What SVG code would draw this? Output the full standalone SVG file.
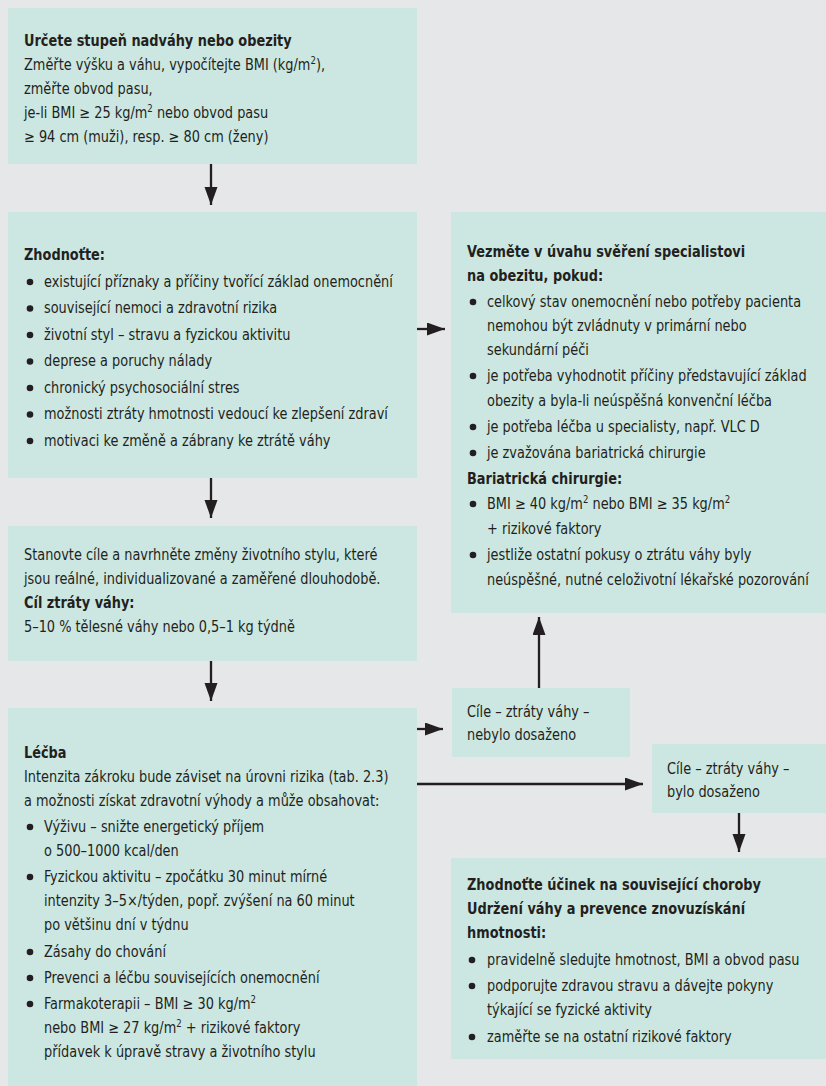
<svg xmlns="http://www.w3.org/2000/svg" width="826" height="1086" viewBox="0 0 826 1086">
<style>
.bg{fill:#e6e7e9}
.box{fill:#cce7e1}
text{font-family:"DejaVu Sans Condensed","Liberation Sans",sans-serif;font-size:15px;fill:#231f20;transform-box:fill-box;transform-origin:0 0;transform:scaleX(0.957)}
.b{font-weight:bold}
.dot{fill:#231f20}
.conn line{stroke:#231f20;stroke-width:2.3;fill:none}
</style>
<defs>
<marker id="ah" markerUnits="userSpaceOnUse" markerWidth="19" markerHeight="14" refX="18" refY="6.5" orient="auto">
<path d="M0,0 L18,6.5 L0,13 z" fill="#231f20"/>
</marker>
</defs>
<rect class="bg" x="0" y="0" width="826" height="1086"/>

<g id="n1">
<rect class="box" x="8" y="8" width="409" height="156"/>
<text class="b" x="24" y="46">Určete stupeň nadváhy nebo obezity</text>
<text x="24" y="70">Změřte výšku a váhu, vypočítejte BMI (kg/m<tspan dy="-6" font-size="10">2</tspan><tspan dy="6">),</tspan></text>
<text x="24" y="94">změřte obvod pasu,</text>
<text x="24" y="118">je-li BMI ≥ 25 kg/m<tspan dy="-6" font-size="10">2</tspan><tspan dy="6"> nebo obvod pasu</tspan></text>
<text x="24" y="142">≥ 94 cm (muži), resp. ≥ 80 cm (ženy)</text>
</g>

<g id="n2">
<rect class="box" x="8" y="212" width="409" height="266"/>
<text class="b" x="24" y="260">Zhodnoťte:</text>
<circle class="dot" cx="30" cy="282" r="3.3"/><text x="44" y="287">existující příznaky a příčiny tvořící základ onemocnění</text>
<circle class="dot" cx="30" cy="308.5" r="3.3"/><text x="44" y="313.5">související nemoci a zdravotní rizika</text>
<circle class="dot" cx="30" cy="335" r="3.3"/><text x="44" y="340">životní styl – stravu a fyzickou aktivitu</text>
<circle class="dot" cx="30" cy="361.5" r="3.3"/><text x="44" y="366.5">deprese a poruchy nálady</text>
<circle class="dot" cx="30" cy="388" r="3.3"/><text x="44" y="393">chronický psychosociální stres</text>
<circle class="dot" cx="30" cy="414.5" r="3.3"/><text x="44" y="419.5">možnosti ztráty hmotnosti vedoucí ke zlepšení zdraví</text>
<circle class="dot" cx="30" cy="441" r="3.3"/><text x="44" y="446">motivaci ke změně a zábrany ke ztrátě váhy</text>
</g>

<g id="n3">
<rect class="box" x="451" y="212" width="375" height="401"/>
<text class="b" x="467" y="257">Vezměte v úvahu svěření specialistovi</text>
<text class="b" x="467" y="281">na obezitu, pokud:</text>
<circle class="dot" cx="473" cy="302" r="3.3"/><text x="487" y="307">celkový stav onemocnění nebo potřeby pacienta</text>
<text x="487" y="331">nemohou být zvládnuty v primární nebo</text>
<text x="487" y="355">sekundární péči</text>
<circle class="dot" cx="473" cy="376" r="3.3"/><text x="487" y="381">je potřeba vyhodnotit příčiny představující základ</text>
<text x="487" y="406">obezity a byla-li neúspěšná konvenční léčba</text>
<circle class="dot" cx="473" cy="427" r="3.3"/><text x="487" y="432">je potřeba léčba u specialisty, např. VLC D</text>
<circle class="dot" cx="473" cy="453" r="3.3"/><text x="487" y="458">je zvažována bariatrická chirurgie</text>
<text class="b" x="467" y="484">Bariatrická chirurgie:</text>
<circle class="dot" cx="473" cy="504" r="3.3"/><text x="487" y="509">BMI ≥ 40 kg/m<tspan dy="-6" font-size="10">2</tspan><tspan dy="6"> nebo BMI ≥ 35 kg/m</tspan><tspan dy="-6" font-size="10">2</tspan></text>
<text x="487" y="534">+ rizikové faktory</text>
<circle class="dot" cx="473" cy="555" r="3.3"/><text x="487" y="560">jestliže ostatní pokusy o ztrátu váhy byly</text>
<text x="487" y="585">neúspěšné, nutné celoživotní lékařské pozorování</text>
</g>

<g id="n4">
<rect class="box" x="8" y="526" width="409" height="135"/>
<text x="24" y="560">Stanovte cíle a navrhněte změny životního stylu, které</text>
<text x="24" y="584">jsou reálné, individualizované a zaměřené dlouhodobě.</text>
<text class="b" x="24" y="608">Cíl ztráty váhy:</text>
<text x="24" y="632">5–10 % tělesné váhy nebo 0,5–1 kg týdně</text>
</g>

<g id="n5">
<rect class="box" x="8" y="708" width="409" height="378"/>
<text class="b" x="24" y="758">Léčba</text>
<text x="24" y="782">Intenzita zákroku bude záviset na úrovni rizika (tab. 2.3)</text>
<text x="24" y="806">a možnosti získat zdravotní výhody a může obsahovat:</text>
<circle class="dot" cx="30" cy="827" r="3.3"/><text x="44" y="832">Výživu – snižte energetický příjem</text>
<text x="44" y="856">o 500–1000 kcal/den</text>
<circle class="dot" cx="30" cy="877" r="3.3"/><text x="44" y="882">Fyzickou aktivitu – zpočátku 30 minut mírné</text>
<text x="44" y="906">intenzity 3–5×/týden, popř. zvýšení na 60 minut</text>
<text x="44" y="930">po většinu dní v týdnu</text>
<circle class="dot" cx="30" cy="952" r="3.3"/><text x="44" y="957">Zásahy do chování</text>
<circle class="dot" cx="30" cy="978" r="3.3"/><text x="44" y="983">Prevenci a léčbu souvisejících onemocnění</text>
<circle class="dot" cx="30" cy="1004" r="3.3"/><text x="44" y="1009">Farmakoterapii –  BMI ≥ 30 kg/m<tspan dy="-6" font-size="10">2</tspan></text>
<text x="44" y="1033">nebo BMI ≥ 27 kg/m<tspan dy="-6" font-size="10">2</tspan><tspan dy="6"> + rizikové faktory</tspan></text>
<text x="44" y="1057">přídavek k úpravě stravy a životního stylu</text>
</g>

<g id="n6">
<rect class="box" x="452" y="688" width="178" height="69"/>
<text x="467" y="717">Cíle – ztráty váhy –</text>
<text x="467" y="740">nebylo dosaženo</text>
</g>

<g id="n7">
<rect class="box" x="652" y="744" width="174" height="69"/>
<text x="667" y="774">Cíle – ztráty váhy –</text>
<text x="667" y="797">bylo dosaženo</text>
</g>

<g id="n8">
<rect class="box" x="451" y="858" width="375" height="201"/>
<text class="b" x="467" y="890">Zhodnoťte účinek na související choroby</text>
<text class="b" x="467" y="914">Udržení váhy a prevence znovuzískání</text>
<text class="b" x="467" y="938">hmotnosti:</text>
<circle class="dot" cx="472" cy="960" r="3.3"/><text x="487" y="965">pravidelně sledujte hmotnost, BMI a obvod pasu</text>
<circle class="dot" cx="472" cy="986" r="3.3"/><text x="487" y="991">podporujte zdravou stravu a dávejte pokyny</text>
<text x="487" y="1015">týkající se fyzické aktivity</text>
<circle class="dot" cx="472" cy="1037" r="3.3"/><text x="487" y="1042">zaměřte se na ostatní rizikové faktory</text>
</g>

<g id="connectors" class="conn">
<line x1="211" y1="164" x2="211" y2="205" marker-end="url(#ah)"/>
<line x1="211" y1="478" x2="211" y2="518" marker-end="url(#ah)"/>
<line x1="211" y1="661" x2="211" y2="701" marker-end="url(#ah)"/>
<line x1="417" y1="329" x2="445" y2="329" marker-end="url(#ah)"/>
<line x1="417" y1="729" x2="443" y2="729" marker-end="url(#ah)"/>
<line x1="417" y1="784" x2="643" y2="784" marker-end="url(#ah)"/>
<line x1="539" y1="688" x2="539" y2="617" marker-end="url(#ah)"/>
<line x1="739" y1="813" x2="739" y2="852" marker-end="url(#ah)"/>
</g>
</svg>
